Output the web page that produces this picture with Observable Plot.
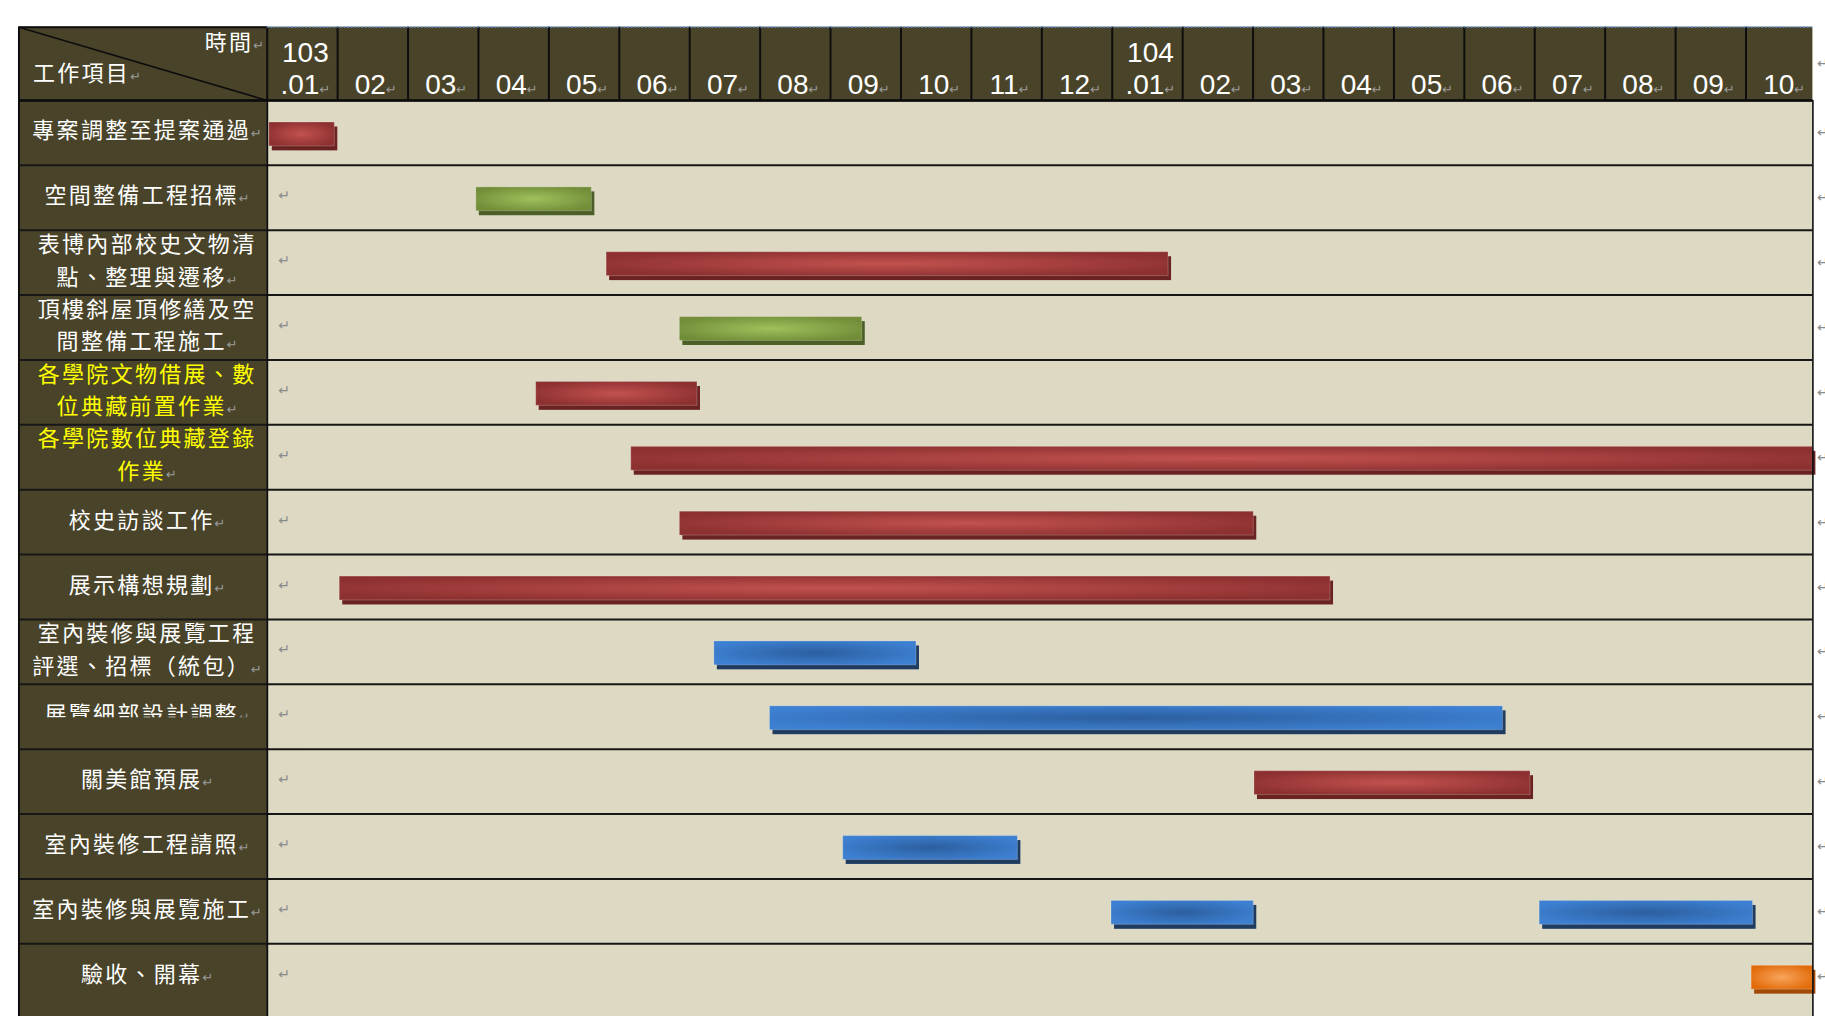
<!DOCTYPE html>
<html>
<head>
<meta charset="utf-8">
<script src="https://cdn.jsdelivr.net/npm/d3@7"></script>
<script src="https://cdn.jsdelivr.net/npm/@observablehq/plot@0.6"></script>
<style>
  html, body { margin: 0; padding: 0; background: #ffffff; }
  #chart { position: absolute; left: 0; top: 0; }
  g[aria-description="task-labels"] text,
  g[aria-description="task-labels-hl"] text,
  g[aria-description="corner-labels"] text { letter-spacing: 2.3px; }
</style>
</head>
<body>
<div id="chart"></div>
<script>
// ---------------- DATA ----------------
const months = ["103\n.01", "02", "03", "04", "05", "06", "07", "08", "09", "10", "11", "12",
                "104\n.01", "02", "03", "04", "05", "06", "07", "08", "09", "10"];

const tasks = [
  "專案調整至提案通過",
  "空間整備工程招標",
  "表博內部校史文物清\n點、整理與遷移",
  "頂樓斜屋頂修繕及空\n間整備工程施工",
  "各學院文物借展、數\n位典藏前置作業",
  "各學院數位典藏登錄\n作業",
  "校史訪談工作",
  "展示構想規劃",
  "室內裝修與展覽工程\n評選、招標（統包）",
  "展覽細部設計調整",
  "關美館預展",
  "室內裝修工程請照",
  "室內裝修與展覽施工",
  "驗收、開幕"
];
const highlightedTasks = [4, 5];   // tasks written in yellow
const clippedTask = 9;             // label only half visible in the original

const cornerTop = "時間";
const cornerBottom = "工作項目";

const kinds = ["規劃作業", "空間工程", "展示工程", "驗收開幕"];

// one entry per bar (months counted from 103.01 = 0)
const barRow   = [0,    1,    2,     3,    4,    5,     6,     7,     8,    9,     10,    11,    12,    12,    13];
const barStart = [0.03, 2.97, 4.82,  5.86, 3.82, 5.17,  5.86,  1.03,  6.35, 7.14,  14.02, 8.18,  11.99, 18.07, 21.08];
const barEnd   = [0.96, 4.61, 12.80, 8.45, 6.11, 21.95, 14.01, 15.10, 9.22, 17.55, 17.94, 10.66, 14.01, 21.10, 21.95];
const barKind  = ["規劃作業", "空間工程", "規劃作業", "空間工程", "規劃作業", "規劃作業", "規劃作業", "規劃作業",
                  "展示工程", "展示工程", "規劃作業", "展示工程", "展示工程", "展示工程", "驗收開幕"];

// ---------------- LAYOUT / STYLE ----------------
const X_LEFT = -3.525, X_RIGHT = 21.95, Y_TOP = -1.13, Y_BOTTOM = 14.2;
const DARK = "#494429", TAN = "#ddd9c3", LINE = "#161616";
const kindStyle = {
  "規劃作業": {id: "g-red",    c0: "#c2524f", c1: "#8c3030", shadow: "#6a2321"},
  "空間工程": {id: "g-green",  c0: "#9fc05c", c1: "#718d38", shadow: "#4c5f26"},
  "展示工程": {id: "g-blue",   c0: "#2c5f9f", c1: "#3d80d2", shadow: "#1f3c60"},
  "驗收開幕": {id: "g-orange", c0: "#f9a45c", c1: "#e16a08", shadow: "#a24b06"}
};
const CJK = "'Noto Sans CJK TC', 'Noto Sans CJK SC', sans-serif";

const bars = barRow.map((r, i) => ({row: r, start: barStart[i], end: barEnd[i], kind: barKind[i]}));
const rows = tasks.map((t, i) => ({i, t}));
const monthData = months.map((m, i) => ({i, m}));

const barMarks = [];
for (const k of kinds) {
  const s = kindStyle[k];
  barMarks.push(Plot.rect(bars.filter(b => b.kind === k), {
    x1: "start", x2: "end", y1: "row", y2: d => d.row + 1,
    insetTop: 22, insetBottom: 19, dx: 3, dy: 4.5, fill: s.shadow
  }));
}
for (const k of kinds) {
  const s = kindStyle[k];
  barMarks.push(Plot.rect(bars.filter(b => b.kind === k), {
    x1: "start", x2: "end", y1: "row", y2: d => d.row + 1,
    insetTop: 22, insetBottom: 19, fill: `url(#${s.id})`,
    stroke: "#ffffff", strokeOpacity: 0.22, strokeWidth: 1
  }));
}

const svg = Plot.plot({
  width: 1825,
  height: 1016,
  margin: 0,
  x: {domain: [0, 21], range: [266.7, 1745.5], axis: null},
  y: {domain: [0, 13], range: [100, 943.3], axis: null},
  style: {background: "white", overflow: "visible"},
  marks: [
    // backgrounds
    Plot.rect([0], {x1: X_LEFT, x2: X_RIGHT, y1: Y_TOP, y2: 0, fill: DARK}),
    Plot.rect([0], {x1: X_LEFT, x2: 0, y1: 0, y2: Y_BOTTOM, fill: DARK}),
    Plot.rect([0], {x1: 0, x2: X_RIGHT, y1: 0, y2: Y_BOTTOM, fill: TAN}),
    // corner cell
    Plot.link([0], {x1: X_LEFT, y1: Y_TOP, x2: 0, y2: 0, stroke: "#0d0d0d", strokeWidth: 1.6}),
    Plot.text([cornerTop], {x: 0, y: Y_TOP, text: d => d, textAnchor: "end", lineAnchor: "middle",
      dx: -3, dy: 16, fill: "#ffffff", fontSize: 22, fontFamily: CJK, ariaDescription: "corner-labels"}),
    Plot.text([cornerBottom], {x: X_LEFT, y: 0, text: d => d, textAnchor: "start", lineAnchor: "middle",
      dx: 14, dy: -27, fill: "#ffffff", fontSize: 22, fontFamily: CJK, ariaDescription: "corner-labels"}),
    // month header
    Plot.text(monthData, {x: d => d.i + 0.5, y: 0, text: "m", textAnchor: "middle", lineAnchor: "bottom",
      lineHeight: 1.15, dx: 3, dy: -6.7, fill: "#ffffff", fontSize: 28,
      fontFamily: "'Liberation Sans', Arial, sans-serif", ariaDescription: "month-labels"}),
    // task labels
    Plot.text(rows.filter(d => !highlightedTasks.includes(d.i)), {x: X_LEFT / 2, y: d => d.i + 0.5, text: "t",
      textAnchor: "middle", lineAnchor: "middle", lineHeight: 1.49, dx: 4, dy: -5, fill: "#ffffff",
      fontSize: 22, fontFamily: CJK, ariaDescription: "task-labels"}),
    Plot.text(rows.filter(d => highlightedTasks.includes(d.i)), {x: X_LEFT / 2, y: d => d.i + 0.5, text: "t",
      textAnchor: "middle", lineAnchor: "middle", lineHeight: 1.49, dx: 4, dy: -5, fill: "#ffff00",
      fontSize: 22, fontFamily: CJK, ariaDescription: "task-labels-hl"}),
    // paragraph marks in the cells and to the right of the table
    Plot.text(rows, {x: 0, y: d => d.i + 0.5, text: () => "↵", dx: 17, dy: -2, fill: "#8a8a8a", fontSize: 14,
      fontFamily: "'DejaVu Sans', sans-serif"}),
    Plot.text([...rows.map(d => d.i + 0.5), Y_TOP / 2], {x: X_RIGHT, y: d => d, text: () => "↵", dx: 4,
      textAnchor: "start", fill: "#8a8a8a", fontSize: 14, fontFamily: "'DejaVu Sans', sans-serif"}),
    // half-hidden label row
    Plot.rect([clippedTask], {x1: X_LEFT, x2: 0, y1: d => d + 0.5, y2: d => d + 1, insetTop: 1, fill: DARK}),
    Plot.rect([clippedTask], {x1: 0, x2: 0.5, y1: d => d + 0.5, y2: d => d + 1, insetTop: 1, fill: TAN}),
    // bars
    ...barMarks,
    // grid
    Plot.ruleY(d3.range(0, 14), {y: d => d, x1: X_LEFT, x2: X_RIGHT, stroke: LINE, strokeWidth: 2}),
    Plot.ruleY([0], {x1: X_LEFT, x2: X_RIGHT, stroke: "#0d0d0d", strokeWidth: 2.6}),
    Plot.ruleX(d3.range(1, 22), {x: d => d, y1: Y_TOP, y2: 0, stroke: "#0d0d0d", strokeWidth: 2}),
    Plot.ruleX([0], {x: d => d, y1: Y_TOP, y2: Y_BOTTOM, stroke: "#0d0d0d", strokeWidth: 2}),
    Plot.ruleX([X_LEFT], {x: d => d, y1: Y_TOP, y2: Y_BOTTOM, stroke: "#0d0d0d", strokeWidth: 2}),
    Plot.ruleX([X_RIGHT], {x: d => d, y1: 0, y2: Y_BOTTOM, stroke: "#0d0d0d", strokeWidth: 1.6}),
    Plot.ruleY([Y_TOP], {x1: X_LEFT, x2: 0, stroke: "#0d0d0d", strokeWidth: 2}),
    Plot.ruleY([Y_TOP], {x1: 0, x2: X_RIGHT, stroke: "#5b8fd6", strokeWidth: 1.3, strokeDasharray: "2,1.5"})
  ]
});

// gradients for the bar faces
const defs = d3.select(svg).insert("defs", ":first-child");
for (const k of kinds) {
  const s = kindStyle[k];
  const g = defs.append("radialGradient").attr("id", s.id)
    .attr("cx", "50%").attr("cy", "50%").attr("r", "58%");
  g.append("stop").attr("offset", "0%").attr("stop-color", s.c0);
  g.append("stop").attr("offset", "100%").attr("stop-color", s.c1);
}

// gray paragraph marks after the label texts
function addMark(textEl, size) {
  const t = document.createElementNS("http://www.w3.org/2000/svg", "tspan");
  t.textContent = "↵";
  t.setAttribute("fill", "#9a9a9a");
  t.setAttribute("font-size", size);
  t.setAttribute("font-family", "DejaVu Sans, sans-serif");
  t.setAttribute("letter-spacing", "0");
  textEl.appendChild(t);
}
svg.querySelectorAll('g[aria-description="task-labels"] text, g[aria-description="task-labels-hl"] text, g[aria-description="corner-labels"] text')
  .forEach(el => addMark(el, 13));
svg.querySelectorAll('g[aria-description="month-labels"] text').forEach(el => addMark(el, 13));

document.getElementById("chart").appendChild(svg);
</script>
</body>
</html>
